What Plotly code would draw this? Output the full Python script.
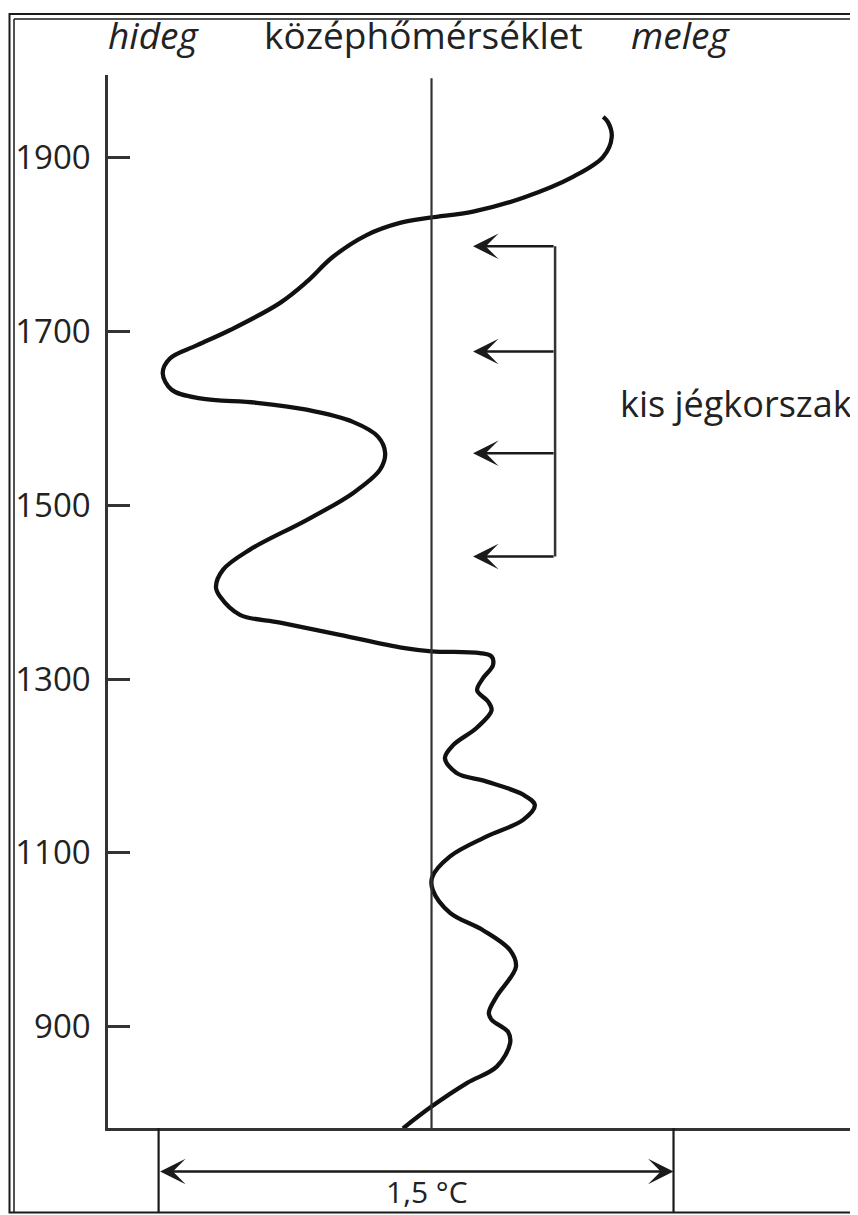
import plotly.graph_objects as go

# ---- data -----------------------------------------------------------------
YEARS = [783, 808, 835, 854, 881, 894, 908, 916, 935, 969, 988, 1011, 1031,
         1057, 1072, 1096, 1119, 1138, 1155, 1167, 1182, 1192, 1209, 1224,
         1244, 1264, 1274, 1287, 1301, 1316, 1326, 1330, 1332, 1336, 1351,
         1365, 1374, 1395, 1406, 1426, 1449, 1483, 1514, 1541, 1560, 1579,
         1596, 1610, 1618, 1623, 1633, 1652, 1669, 1684, 1702, 1733,
         1757, 1786, 1811, 1825, 1831, 1838, 1854, 1878, 1901, 1924, 1941,
         1947]
TEMP_ANOMALY = [-0.083, 0.000, 0.103, 0.190, 0.229, 0.223, 0.175, 0.167,
                0.190, 0.246, 0.229, 0.150, 0.054, 0.004, 0.002, 0.054,
                0.161, 0.267, 0.301, 0.267, 0.161, 0.073, 0.039, 0.063,
                0.132, 0.175, 0.165, 0.133, 0.150, 0.179, 0.175, 0.141,
                0.000, -0.083, -0.267, -0.441, -0.558, -0.616, -0.628,
                -0.607, -0.529, -0.364, -0.229, -0.150, -0.135, -0.156,
                -0.229, -0.364, -0.509, -0.674, -0.757, -0.783, -0.762,
                -0.684, -0.585, -0.441, -0.364, -0.287, -0.189,
                -0.092, -0.004, 0.121, 0.267, 0.412, 0.500, 0.525, 0.514,
                0.500]
TICK_YEARS = [900, 1100, 1300, 1500, 1700, 1900]
MEAN_TEMP = 0.0
ICE_AGE_ARROW_YEARS = [1441, 1560, 1677, 1798]
ICE_AGE_BRACKET_T = 0.36
ICE_AGE_TIP_T = 0.121
ICE_AGE_LABEL = "kis jégkorszak"
SCALE_BAR_T = [-0.795, 0.705]
SCALE_BAR_LABEL = "1,5 °C"
HEADER_LABELS = ["<i>hideg</i>", "középhőmérséklet", "<i>meleg</i>"]

# ---- layout helpers (window pixel -> paper); page body has an 8px margin --
OFF = 8
W, H = 858 - OFF, 1215 - OFF
PLOT_L, PLOT_R, PLOT_T, PLOT_B = 108, 858, 75, 1128
INK = "#1a1a1a"
AXIS = "#333333"
FONT = "Open Sans"


def px(x):
    return (x - OFF) / W


def py(y):
    return 1 - (y - OFF) / H


fig = go.Figure()
fig.add_trace(go.Scatter(
    x=TEMP_ANOMALY, y=YEARS, mode="lines",
    line=dict(color="#111111", width=4.3, shape="spline", smoothing=1.0),
    hoverinfo="skip", showlegend=False,
))

fig.update_layout(
    width=W, height=H,
    margin=dict(l=0, r=0, t=0, b=0),
    paper_bgcolor="white", plot_bgcolor="white",
    font=dict(family=FONT, color="#222"),
    xaxis=dict(domain=[px(PLOT_L), min(1.0, px(PLOT_R))],
               range=[-0.9424, 1.2424],
               showgrid=False, zeroline=False, showline=True,
               linecolor=AXIS, linewidth=2.5, showticklabels=False,
               ticks="", fixedrange=True),
    yaxis=dict(domain=[py(PLOT_B), py(PLOT_T)], range=[783.4, 1995.2],
               showgrid=False, zeroline=False, showline=True,
               linecolor=AXIS, linewidth=2.5, ticks="inside", ticklen=22,
               tickwidth=2.5, tickcolor=AXIS, tickvals=TICK_YEARS,
               tickfont=dict(family=FONT, size=33, color="#222"),
               ticklabelstandoff=8, fixedrange=True),
)

shapes = []
# mean temperature line
shapes.append(dict(type="line", xref="x", yref="y domain",
                   x0=MEAN_TEMP, x1=MEAN_TEMP, y0=0, y1=0.997,
                   line=dict(color=AXIS, width=2.2)))
# little ice age bracket
shapes.append(dict(type="line", xref="x", yref="y",
                   x0=ICE_AGE_BRACKET_T, x1=ICE_AGE_BRACKET_T,
                   y0=min(ICE_AGE_ARROW_YEARS), y1=max(ICE_AGE_ARROW_YEARS),
                   line=dict(color=AXIS, width=2.5)))
# scale bar end ticks
for t in SCALE_BAR_T:
    shapes.append(dict(type="line", xref="x", yref="paper",
                       x0=t, x1=t, y0=py(PLOT_B), y1=py(1213),
                       line=dict(color=INK, width=2.2)))
# double frame
shapes.append(dict(type="rect", xref="paper", yref="paper",
                   x0=px(9.5), x1=px(856.5), y0=py(1212.5), y1=py(14),
                   line=dict(color=INK, width=2), layer="above"))
shapes.append(dict(type="line", xref="paper", yref="paper",
                   x0=px(14), x1=px(14), y0=py(1212.5), y1=py(19),
                   line=dict(color=INK, width=1.5), layer="above"))
shapes.append(dict(type="line", xref="paper", yref="paper",
                   x0=px(14), x1=px(856.5), y0=py(19), y1=py(19),
                   line=dict(color=INK, width=1.5), layer="above"))
fig.update_layout(shapes=shapes)

ann = []
for yr in ICE_AGE_ARROW_YEARS:
    ann.append(dict(x=ICE_AGE_TIP_T, y=yr, xref="x", yref="y",
                    ax=ICE_AGE_BRACKET_T, ay=yr, axref="x", ayref="y",
                    text="", showarrow=True, arrowhead=3, arrowsize=1.7,
                    arrowwidth=2.5, arrowcolor=INK, standoff=0))
ann.append(dict(x=px(618), y=py(403), xref="paper", yref="paper",
                xanchor="left", yanchor="middle", text=ICE_AGE_LABEL,
                showarrow=False, font=dict(family=FONT, size=36, color="#222")))
# scale bar double arrow
ann.append(dict(x=SCALE_BAR_T[1], y=py(1171.5), xref="x", yref="paper",
                ax=SCALE_BAR_T[0], axref="x", ay=0, ayref="pixel",
                text="", showarrow=True, arrowside="end+start",
                arrowhead=3, startarrowhead=3, arrowsize=1.7,
                startarrowsize=1.7, arrowwidth=2.5, arrowcolor=INK,
                standoff=0, startstandoff=0))
ann.append(dict(x=px(427), y=py(1191), xref="paper", yref="paper",
                xanchor="center", yanchor="middle", text=SCALE_BAR_LABEL,
                showarrow=False, borderpad=0,
                font=dict(family=FONT, size=30, color="#222")))
# header labels
for label, cx in zip(HEADER_LABELS, [153, 423, 680]):
    ann.append(dict(x=px(cx), y=py(34), xref="paper", yref="paper",
                    xanchor="center", yanchor="middle", text=label,
                    showarrow=False,
                    font=dict(family=FONT, size=37, color="#222")))
fig.update_layout(annotations=ann)

fig.write_html("out.html")
